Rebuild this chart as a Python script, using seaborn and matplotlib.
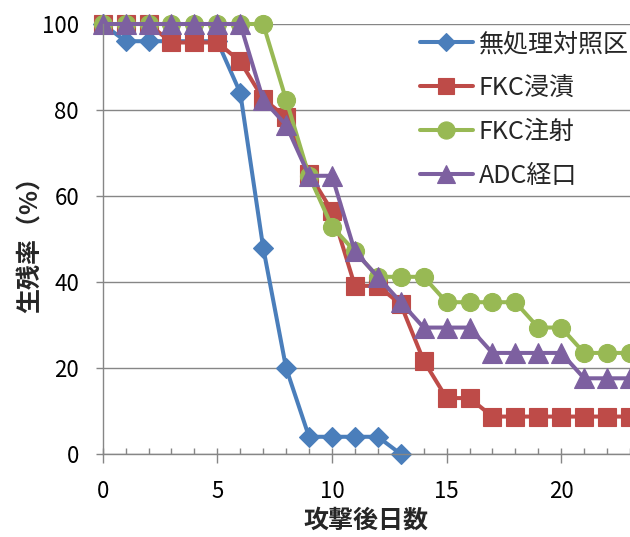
import matplotlib
matplotlib.use("Agg")
import matplotlib.pyplot as plt
from matplotlib.ticker import MultipleLocator
import seaborn as sns

# Survival (%) per day after challenge
days = list(range(24))
control_days = list(range(14))
control = [100, 96, 96, 96, 96, 96, 84, 48, 20, 4, 4, 4, 4, 0]
fkc_dip = [100, 100, 100, 95.7, 95.7, 95.7, 91.3, 82.6, 78.3, 65.2, 56.5, 39.1,
           39.1, 34.8, 21.7, 13.0, 13.0, 8.7, 8.7, 8.7, 8.7, 8.7, 8.7, 8.7]
fkc_inj = [100, 100, 100, 100, 100, 100, 100, 100, 82.4, 64.7, 52.9, 47.1,
           41.2, 41.2, 41.2, 35.3, 35.3, 35.3, 35.3, 29.4, 29.4, 23.5, 23.5, 23.5]
adc_oral = [100, 100, 100, 100, 100, 100, 100, 82.4, 76.5, 64.7, 64.7, 47.1,
            41.2, 35.3, 29.4, 29.4, 29.4, 23.5, 23.5, 23.5, 23.5, 17.6, 17.6, 17.6]

labels = ["無処理対照区", "FKC浸漬", "FKC注射", "ADC経口"]
x_ticks = [0, 5, 10, 15, 20]
y_ticks = [0, 20, 40, 60, 80, 100]

sns.set_theme(style="white")
plt.rcParams["font.family"] = ["Noto Sans CJK JP", "DejaVu Sans"]

grey = "#868686"
fig = plt.figure(figsize=(6.30, 5.37), dpi=100)
ax = fig.add_axes([0.163, 0.1546, 0.837, 0.8007])

series = [
    (control_days, control, "#4A7EBB", "D", 10),
    (days, fkc_dip, "#BE4B48", "s", 12.5),
    (days, fkc_inj, "#98B954", "o", 13),
    (days, adc_oral, "#7D60A0", "^", 14),
]
for (xs, ys, col, mk, ms), lab in zip(series, labels):
    sns.lineplot(x=xs, y=ys, ax=ax, color=col, marker=mk, markersize=ms,
                 markeredgecolor=col, markeredgewidth=0.8, linewidth=2.9,
                 clip_on=False, label=lab, legend=False)

ax.set_xlim(0, 23)
ax.set_ylim(0, 100)
ax.set_xticks(x_ticks)
ax.set_yticks(y_ticks)
ax.xaxis.set_minor_locator(MultipleLocator(1))
ax.xaxis.remove_overlapping_locs = False

ax.yaxis.grid(True, color=grey, linewidth=1.0)
ax.xaxis.grid(False)
ax.set_axisbelow(True)
for side in ["top", "right"]:
    ax.spines[side].set_visible(False)
for side in ["left", "bottom"]:
    ax.spines[side].set_color(grey)
    ax.spines[side].set_linewidth(1.0)

ax.tick_params(axis="y", which="major", direction="out", length=5, width=1,
               color=grey, pad=12, labelsize=16, left=True)
ax.tick_params(axis="x", which="major", direction="out", length=6.5, width=1,
               color=grey, pad=12, labelsize=16, bottom=True)
ax.tick_params(axis="x", which="minor", direction="in", length=4.3, width=1,
               color=grey, bottom=True)
for t in ax.get_xticklabels() + ax.get_yticklabels():
    t.set_color("black")

ax.set_xlabel("攻撃後日数", fontsize=18, fontweight="bold")
ax.set_ylabel("生残率（%）", fontsize=18, fontweight="bold")
ax.xaxis.set_label_coords(0.5, -0.128)
ax.xaxis.label.set_va("top")
ax.yaxis.set_label_coords(-0.113, 0.5)

if ax.get_legend() is not None:
    ax.get_legend().remove()
handles, labs = ax.get_legend_handles_labels()
fig.legend(handles, labs, loc="upper left",
           bbox_to_anchor=(420 / 630, 1 - 31 / 537),
           frameon=False, fontsize=18, borderpad=0, borderaxespad=0,
           handlelength=2.1, handletextpad=0.25, labelspacing=0.72,
           markerscale=0.95)

fig.savefig("out.png", dpi=100)
